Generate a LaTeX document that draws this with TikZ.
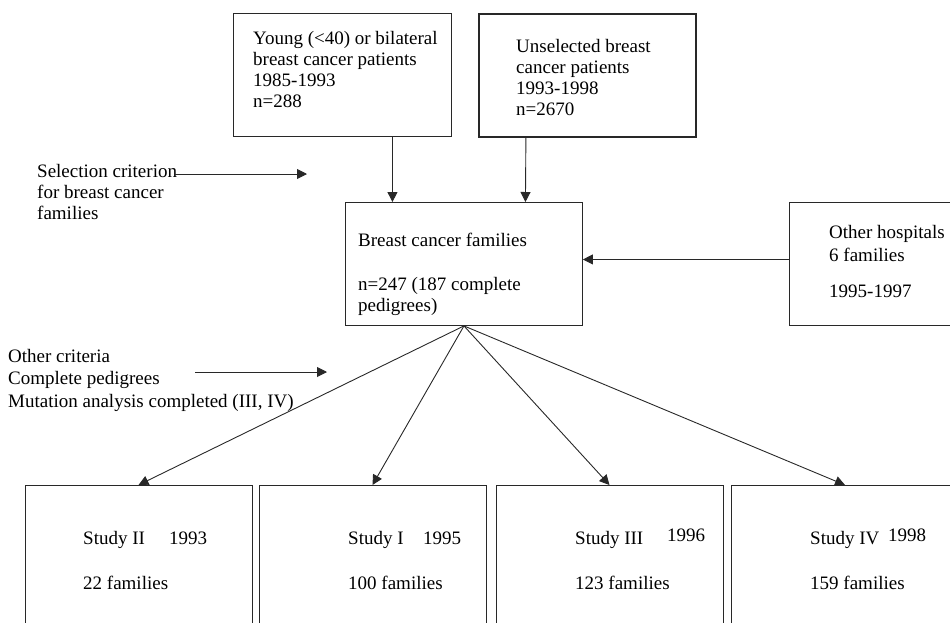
\documentclass[tikz,border=0pt]{standalone}
\usepackage{fontspec}
\setmainfont{Liberation Serif}
\usetikzlibrary{arrows.meta,positioning}
\definecolor{ink}{RGB}{40,40,40}
\tikzset{
  box/.style={draw=ink,line width=0.9pt,inner sep=0pt,anchor=north west},
  boldbox/.style={box,line width=1.8pt},
  studybox/.style={draw=ink,line width=0.9pt,inner sep=0pt,anchor=north,minimum width=227pt,minimum height=200pt},
  txt/.style={anchor=base west,inner sep=0pt,align=left,font=\fontsize{19}{21}\selectfont},
  arr/.style={-{Triangle[length=10pt,width=10pt]},draw=ink,line width=0.9pt}
}
\begin{document}
\begin{tikzpicture}[x=1pt,y=-1pt]
\useasboundingbox (0,0) rectangle (950,622);
\clip (0,0) rectangle (950,622);
% patient series (text nodes sit on the baseline of their last line)
\node[box,minimum width=218pt,minimum height=123pt] (young) at (233,13) {};
\node[txt] (youngtxt) at (253,107) {Young (<40) or bilateral\\breast cancer patients\\1985-1993\\n=288};
\node[boldbox,minimum width=217pt,minimum height=123pt] (unsel) at (478,13) {};
\node[txt] (unseltxt) at (516,115) {Unselected breast\\cancer patients\\1993-1998\\n=2670};
% families
\node[box,minimum width=237pt,minimum height=123pt] (fam) at (345,202) {};
\node[txt] (famtxt) at (358,311) {Breast cancer families\\[23pt]n=247 (187 complete\\pedigrees)};
\node[box,minimum width=171pt,minimum height=123pt] (hosp) at (789,202) {};
\node[txt] (hosptxt) at (829,297) {Other hospitals\\[2pt]6 families\\[15pt]1995-1997};
% criteria
\node[txt] (seltxt) at (37,219) {Selection criterion\\for breast cancer\\families};
\coordinate (sel-a) at (175,174);
\coordinate (sel-b) at (307,174);
\node[txt] (othtxt) at (8,407) {Other criteria\\[1.5pt]Complete pedigrees\\[1.5pt]Mutation analysis completed (III, IV)};
\coordinate (oth-a) at (195,372);
\coordinate (oth-b) at (327,372);
% studies
\node[studybox] (studyII) at (138.5,485) {};
\node[studybox] (studyI) at (372.5,485) {};
\node[studybox] (studyIII) at (609.5,485) {};
\node[studybox] (studyIV) at (845,485) {};
\foreach \x/\lab/\n in {83/Study II/22,348/Study I/100,575/Study III/123,810/Study IV/159} {
  \node[txt] at (\x,589) {\lab\\[24pt]\n\ families};
}
\node[txt] (yrII) at (169,544) {1993};
\node[txt] (yrI) at (423,544) {1995};
\node[txt] (yrIII) at (667,541) {1996};
\node[txt] (yrIV) at (888,541) {1998};
% connectors
\draw[arr] ([xshift=50pt]young.south) -- ([xshift=-71.5pt]fam.north);
\draw[arr] ([xshift=-61.5pt]unsel.south) -- ([xshift=61.5pt]fam.north);
\draw[arr] ([yshift=4.5pt]hosp.west) -- ([yshift=4.5pt]fam.east);
\draw[arr] (sel-a) -- (sel-b);
\draw[arr] (oth-a) -- (oth-b);
\foreach \s in {studyII,studyI,studyIII,studyIV}
  \draw[arr] (fam.south) -- (\s.north);
\end{tikzpicture}
\end{document}
